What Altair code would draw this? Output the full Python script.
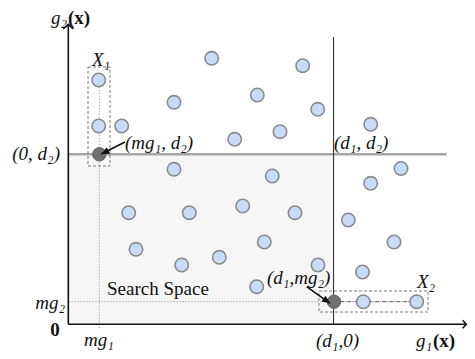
import altair as alt
import pandas as pd

# ---- data (units: g1 / g2 axis units) ----
blue_g1 = [30.4, 30.4, 53.4, 143.4, 234.4, 105.7, 189.0, 249.4, 166.4, 211.7,
           302.4, 105.7, 204.0, 332.7, 302.4, 60.4, 121.0, 174.4, 226.7, 280.0,
           67.7, 196.0, 325.7, 113.4, 151.0, 249.7, 294.2, 188.4, 295.0, 348.4]
blue_g2 = [244.3, 198.3, 198.3, 266.0, 258.6, 222.0, 229.3, 215.0, 185.0, 192.6,
           200.0, 155.0, 148.3, 155.8, 141.0, 111.6, 111.6, 118.3, 111.6, 104.3,
           75.0, 82.3, 82.3, 59.3, 67.0, 59.3, 52.3, 37.6, 22.6, 22.6]

mg1, mg2 = 31.0, 22.6
d1, d2 = 265.0, 170.0
gray_g1 = [mg1, d1 + 0.7]
gray_g2 = [d2, mg2]

# annotation texts
lab_text = ["X₁", "(mg₁, d₂)", "(d₁, d₂)", "(d₁,mg₂)", "X₂", "(d₁,0)", "mg₁", "mg₂", "(0, d₂)"]
lab_g1 = [32.7, 56.7, 265.7, 198.7, 348.7, 269.2, 30.7, -3.3, -8.3]
lab_g2 = [264.3, 181.3, 181.3, 46.3, 42.3, -17.0, -15.5, 21.3, 170.3]
lab_align = ["center", "left", "left", "left", "left", "center", "center", "right", "right"]

X_DOM = [-60.3, 398.7]
Y_DOM = [-26.7, 316.3]
FONT = "'Liberation Serif', 'Times New Roman', 'DejaVu Serif', serif"
FS = 19

xs = alt.Scale(domain=X_DOM, nice=False, zero=False)
ys = alt.Scale(domain=Y_DOM, nice=False, zero=False)


def X(f="g1"):
    return alt.X(f"{f}:Q", scale=xs, axis=None)


def Y(f="g2"):
    return alt.Y(f"{f}:Q", scale=ys, axis=None)


# shaded search space
shade = alt.Chart(pd.DataFrame({"g1": [0], "g1b": [d1], "g2": [0], "g2b": [d2]})).mark_rect(
    color="#f6f6f6").encode(x=X(), x2="g1b:Q", y=Y(), y2="g2b:Q")

# reference lines
hlines = pd.DataFrame({
    "g1": [0, 0, d1],
    "g1b": [d1, 378.4, d1 + 83.4],
    "g2": [mg2, d2, mg2],
    "kind": ["mg2", "d2", "x2"],
})
mg2_line = alt.Chart(hlines[hlines.kind == "mg2"]).mark_rule(
    color="#aaaaaa", strokeWidth=1, strokeDash=[1.5, 1.5]).encode(x=X(), x2="g1b:Q", y=Y())
d2_line = alt.Chart(hlines[hlines.kind == "d2"]).mark_rule(
    color="#a6a6a6", strokeWidth=2.5).encode(x=X(), x2="g1b:Q", y=Y())
x2_line = alt.Chart(hlines[hlines.kind == "x2"]).mark_rule(
    color="#555555", strokeWidth=1, strokeDash=[4, 1, 1, 1]).encode(x=X(), x2="g1b:Q", y=Y())

mg1_line = alt.Chart(pd.DataFrame({"g1": [mg1], "g2": [-4.0], "g2b": [244.0]})).mark_rule(
    color="#aaaaaa", strokeWidth=1, strokeDash=[1.5, 1.5]).encode(x=X(), y=Y(), y2="g2b:Q")
d1_line = alt.Chart(pd.DataFrame({"g1": [d1 + 0.3], "g2": [0], "g2b": [287.3]})).mark_rule(
    color="#222222", strokeWidth=1).encode(x=X(), y=Y(), y2="g2b:Q")

# axes
xaxis = alt.Chart(pd.DataFrame({"g1": [0], "g1b": [398.7], "g2": [0]})).mark_rule(
    color="#111111", strokeWidth=1.6).encode(x=X(), x2="g1b:Q", y=Y())
yaxis = alt.Chart(pd.DataFrame({"g1": [0], "g2": [0], "g2b": [300.0]})).mark_rule(
    color="#111111", strokeWidth=1.6).encode(x=X(), y=Y(), y2="g2b:Q")
yarrow = alt.Chart(pd.DataFrame({"g1": [0], "g2": [300.0]})).mark_point(
    shape="M-1,0.9L0,0L1,0.9", filled=False, stroke="#111111", strokeWidth=1.6, size=100, opacity=1
).encode(x=X(), y=Y())
xarrow = alt.Chart(pd.DataFrame({"g1": [398.0], "g2": [0]})).mark_point(
    shape="M-0.9,-1L0,0L-0.9,1", filled=False, stroke="#111111", strokeWidth=1.6, size=64, opacity=1
).encode(x=X(), y=Y())

# dashed group boxes
boxes = alt.Chart(pd.DataFrame({
    "g1": [19.7, 250.7], "g1b": [41.7, 359.7],
    "g2": [158.3, 12.3], "g2b": [257.3, 33.3],
})).mark_rect(fillOpacity=0, stroke="#7a7a7a", strokeWidth=1, strokeDash=[3, 2]).encode(
    x=X(), x2="g1b:Q", y=Y(), y2="g2b:Q")

# points
blue = alt.Chart(pd.DataFrame({"g1": blue_g1, "g2": blue_g2})).mark_circle(
    size=180, color="#c8dbf8", stroke="#8a8a8a", strokeWidth=1.6, opacity=1).encode(x=X(), y=Y())
gray = alt.Chart(pd.DataFrame({"g1": gray_g1, "g2": gray_g2})).mark_circle(
    size=180, color="#707070", stroke="#666666", strokeWidth=1, opacity=1).encode(x=X(), y=Y())

# annotation arrows
arr = pd.DataFrame({
    "g1": [56.7, 238.4], "g2": [182.3, 37.6],
    "g1b": [33.0, 261.7], "g2b": [170.3, 21.0],
    "ang": [243.4, 125.6],
})
arr_lines = alt.Chart(arr).mark_rule(color="#111111", strokeWidth=1.6).encode(
    x=X(), y=Y(), x2="g1b:Q", y2="g2b:Q")
arr_heads = alt.Chart(arr).mark_point(
    shape="M0,0L-0.45,1L0.45,1Z", filled=True, color="#111111", size=256, opacity=1).encode(
    x=X("g1b"), y=Y("g2b"), angle=alt.Angle("ang:Q", scale=None))

# text labels
labels = pd.DataFrame({"t": lab_text, "g1": lab_g1, "g2": lab_g2, "al": lab_align})
text_layers = []
for al in ["center", "left", "right"]:
    sub = labels[labels.al == al]
    text_layers.append(alt.Chart(sub).mark_text(
        font=FONT, fontSize=FS, fontStyle="italic", align=al, baseline="middle", color="#111111"
    ).encode(x=X(), y=Y(), text="t:N"))

plain = alt.Chart(pd.DataFrame({"t": ["Search Space", "0"], "g1": [38.7, -13.3], "g2": [35.3, -5.7],
                                "al": ["left", "center"]}))
search_txt = plain.transform_filter(alt.datum.al == "left").mark_text(
    font=FONT, fontSize=FS, align="left", baseline="middle", color="#111111").encode(
    x=X(), y=Y(), text="t:N")
zero_txt = plain.transform_filter(alt.datum.al == "center").mark_text(
    font=FONT, fontSize=FS, fontWeight="bold", align="center", baseline="middle", color="#111111").encode(
    x=X(), y=Y(), text="t:N")

axis_names = pd.DataFrame({"g": ["g₂", "g₁"], "x": ["(x)", "(x)"],
                           "g1": [-1.3, 363.7], "g2": [306.0, -17.0]})
ax_g = alt.Chart(axis_names).mark_text(
    font=FONT, fontSize=FS, fontStyle="italic", align="right", baseline="middle", color="#111111").encode(
    x=X(), y=Y(), text="g:N")
ax_x = alt.Chart(axis_names).mark_text(
    font=FONT, fontSize=FS, fontWeight="bold", align="left", baseline="middle", color="#111111", dx=1).encode(
    x=X(), y=Y(), text="x:N")

chart = alt.layer(
    shade, mg2_line, mg1_line, d2_line, d1_line, xaxis, yaxis, yarrow, xarrow,
    boxes, x2_line, blue, gray, arr_lines, arr_heads,
    *text_layers, search_txt, zero_txt, ax_g, ax_x,
).properties(
    width=459, height=343, padding=0, autosize=alt.AutoSizeParams(type="none"),
    background="white",
).configure_view(stroke=None)

chart.save("out.html", embed_options={"renderer": "svg", "actions": False})
